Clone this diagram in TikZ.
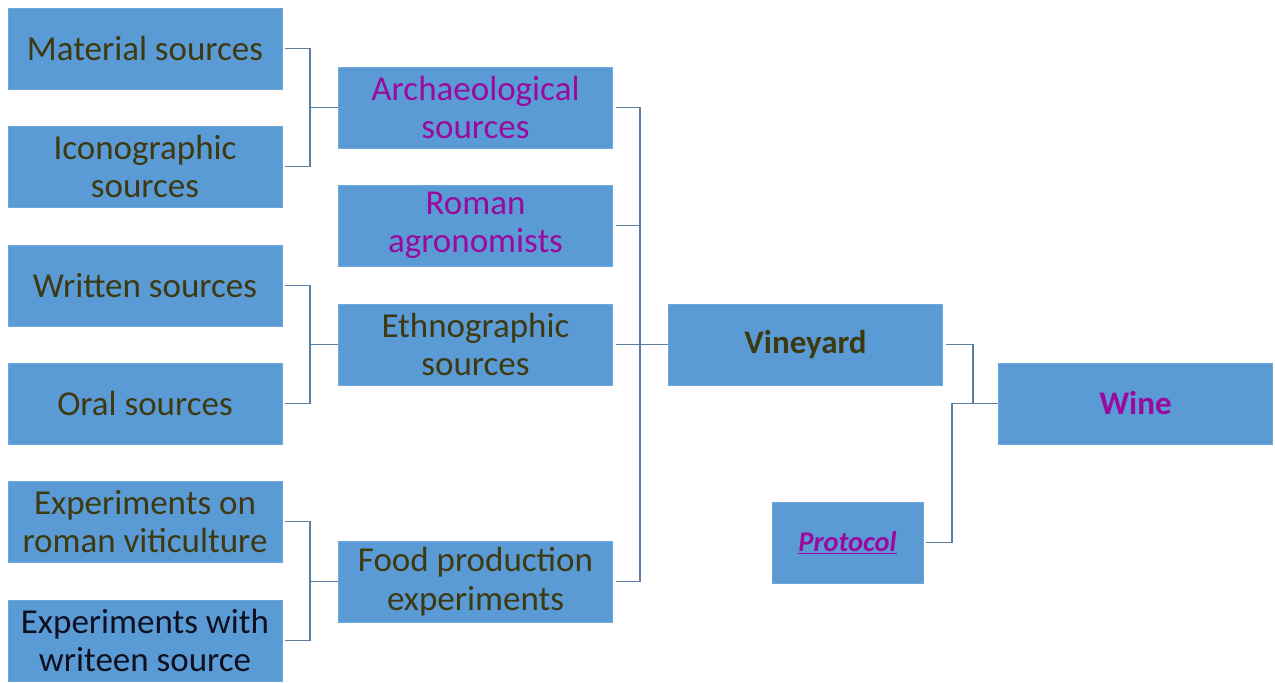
\documentclass[tikz,border=0pt]{standalone}
\usepackage{fontspec}
\setmainfont{Carlito}
\definecolor{boxfill}{HTML}{5B9BD5}
\definecolor{boxedge}{HTML}{6FA8DC}
\definecolor{linec}{HTML}{5A7FA3}
\definecolor{txtbrown}{HTML}{3D3A12}
\definecolor{txtpurple}{HTML}{9A0A9E}
\definecolor{txtdark}{HTML}{0E1020}
\begin{document}
\begin{tikzpicture}[x=1pt,y=-1pt,
  box/.style={draw=boxedge,line width=0.8pt,fill=boxfill,minimum width=274pt,minimum height=81pt,inner sep=0pt,align=center,
    font=\fontsize{35}{38.5}\selectfont,text=txtbrown},
  pbox/.style={box,text=txtpurple},
  conn/.style={draw=linec,line width=1.3pt}]
\useasboundingbox (0,0) rectangle (1275,683);
% left column
\node[box] (mat) at (145,48.5) {Material sources};
\node[box] (ico) at (145,166.5) {Iconographic\\sources};
\node[box] (wri) at (145,285.5) {Written sources};
\node[box] (ora) at (145,403.5) {Oral sources};
\node[box] (exr) at (145,521.5) {Experiments on\\roman viticulture};
\node[box,text=txtdark] (exw) at (145,640.5) {Experiments with\\writeen source};
% middle column
\node[pbox] (arc) at (475.5,107.5) {Archaeological\\sources};
\node[pbox] (rom) at (475.5,225.5) {Roman\\agronomists};
\node[box] (eth) at (475.5,344.5) {Ethnographic\\sources};
\node[box] (foo) at (475.5,581.5) {Food production\\experiments};
% right
\node[box,font=\fontsize{33}{38}\selectfont\bfseries] (vin) at (805.5,344.5) {Vineyard};
\node[pbox,font=\fontsize{33}{38}\selectfont\bfseries] (win) at (1135.5,403.5) {Wine};
\node[pbox,minimum width=151pt,font=\fontsize{28.5}{32}\selectfont\bfseries\itshape] (pro) at (847.5,542.5) {\underline{Protocol}};
% coordinates
\coordinate (j1) at (310,107.5);
\coordinate (j2) at (310,344.5);
\coordinate (j3) at (310,581.5);
\coordinate (bus) at (640,344.5);
\coordinate (j4) at (973,403.5);
\coordinate (j5) at (952,403.5);
% connectors
\draw[conn] ([xshift=3pt]mat.east) -| (j1) |- ([xshift=3pt]ico.east);
\draw[conn] (j1) -- (arc.west);
\draw[conn] ([xshift=3pt]wri.east) -| (j2) |- ([xshift=3pt]ora.east);
\draw[conn] (j2) -- (eth.west);
\draw[conn] ([xshift=3pt]exr.east) -| (j3) |- ([xshift=3pt]exw.east);
\draw[conn] (j3) -- (foo.west);
\draw[conn] ([xshift=3pt]arc.east) -| (bus) |- ([xshift=3pt]foo.east);
\draw[conn] ([xshift=3pt]rom.east) -| (bus);
\draw[conn] ([xshift=3pt]eth.east) -- (vin.west);
\draw[conn] ([xshift=3pt]vin.east) -| (j4) -- (win.west);
\draw[conn] ([xshift=3pt]pro.east) -| (j5) -- (j4);
\end{tikzpicture}
\end{document}
